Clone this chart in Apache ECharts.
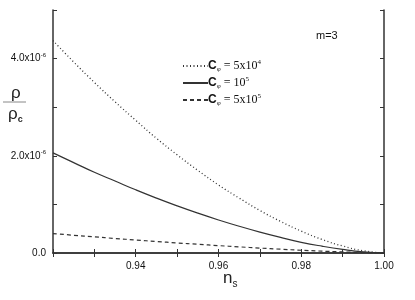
<!DOCTYPE html>
<html>
<head>
<meta charset="utf-8">
<script src="https://cdn.jsdelivr.net/npm/echarts@6/dist/echarts.min.js"></script>
<style>html,body{margin:0;padding:0;background:#fff}#c{width:415px;height:300px}</style>
</head>
<body>
<div id="c"></div>
<script>
// n_s values
var ns = [0.920,0.925,0.930,0.935,0.940,0.945,0.950,0.955,0.960,0.965,0.970,0.975,0.980,0.985,0.990,0.995,1.000];
// rho/rho_c in units of 1e-6
var dotted5e4 = [4.37,3.93,3.51,3.11,2.73,2.36,2.02,1.70,1.40,1.13,0.875,0.65,0.45,0.28,0.144,0.046,0];
var solid1e5  = [2.06,1.86,1.66,1.48,1.30,1.13,0.97,0.82,0.68,0.55,0.43,0.32,0.22,0.14,0.074,0.024,0];
var dashed5e5 = [0.40,0.365,0.332,0.299,0.267,0.237,0.207,0.179,0.152,0.126,0.101,0.078,0.057,0.038,0.022,0.008,0];
var seriesNames = ['{c|C}{sub|φ} = 5x10{sup|4}','{c|C}{sub|φ} = 10{sup|5}','{c|C}{sub|φ} = 5x10{sup|5}'];
var xTickLabels = {94:'0.94',96:'0.96',98:'0.98',100:'1.00'};
var yTickLabels = {0:'0.0',2:'2.0x10{sup|-6}',4:'4.0x10{sup|-6}'};

function pairs(ys){return ns.map(function(x,i){return [x,ys[i]];});}
var ink = '#333';
var chart = echarts.init(document.getElementById('c'), null, {renderer:'canvas'});
var axisLine = {show:true, lineStyle:{color:ink, width:1.5}};
var tick = {show:true, inside:true, length:4, lineStyle:{color:ink, width:1}};
chart.setOption({
  animation:false,
  backgroundColor:'#fff',
  grid:{left:53, right:31, top:10, bottom:47},
  xAxis:[{
    type:'value', min:0.92, max:1.0, interval:0.01, position:'bottom',
    axisLine:axisLine, axisTick:tick, splitLine:{show:false},
    axisLabel:{margin:8, color:'#111', fontFamily:'Liberation Sans', fontSize:10,
      formatter:function(v){var k=Math.round(v*100);return xTickLabels[k]||'';}}
  },{
    type:'value', min:0.92, max:1.0, interval:0.01, position:'top',
    axisLine:axisLine, axisTick:tick, splitLine:{show:false}, axisLabel:{show:false}
  }],
  yAxis:[{
    type:'value', min:0, max:5, interval:1, position:'left',
    axisLine:axisLine, axisTick:tick, splitLine:{show:false},
    axisLabel:{margin:7, color:'#111', fontFamily:'Liberation Sans', fontSize:10,
      formatter:function(v){return yTickLabels[Math.round(v)]||'';},
      rich:{sup:{fontSize:6, verticalAlign:'top', padding:[0,0,7,0], fontFamily:'Liberation Sans', color:'#111'}}}
  },{
    type:'value', min:0, max:5, interval:1, position:'right',
    axisLine:axisLine, axisTick:tick, splitLine:{show:false}, axisLabel:{show:false}
  }],
  legend:{
    orient:'vertical', left:177, top:54, itemWidth:25, itemHeight:10, itemGap:3,
    data:seriesNames,
    itemStyle:{opacity:0},
    textStyle:{fontFamily:'Liberation Serif', fontSize:12, color:'#111', padding:[0,0,0,-5],
      rich:{c:{fontFamily:'Liberation Sans', fontWeight:'bold', fontSize:12, color:'#111'},
            sub:{fontSize:7, verticalAlign:'bottom', padding:[7,0,0,0], fontFamily:'Liberation Serif', color:'#111'},
            sup:{fontSize:7, verticalAlign:'top', padding:[0,0,6,0], fontFamily:'Liberation Serif', color:'#111'}}}
  },
  series:[
    {name:seriesNames[0], type:'line', data:pairs(dotted5e4), showSymbol:false, symbol:'none', smooth:true,
     lineStyle:{color:ink, width:1.3, type:[1,2.5]}, itemStyle:{color:ink}},
    {name:seriesNames[1], type:'line', data:pairs(solid1e5), showSymbol:false, symbol:'none', smooth:true,
     lineStyle:{color:ink, width:1.2, type:'solid'}, itemStyle:{color:ink}},
    {name:seriesNames[2], type:'line', data:pairs(dashed5e5), showSymbol:false, symbol:'none', smooth:true,
     lineStyle:{color:ink, width:1.2, type:[4,3]}, itemStyle:{color:ink}}
  ],
  graphic:[
    {type:'text', left:316, top:30, style:{text:'m=3', font:'11px "Liberation Sans"', fill:'#111'}},
    {type:'text', left:11, top:85, style:{text:'ρ', font:'17px "Liberation Sans"', fill:'#222'}},
    {type:'line', shape:{x1:3, y1:102, x2:26, y2:102}, style:{stroke:'#888', lineWidth:1}},
    {type:'text', left:8, top:106, style:{text:'ρ{s|c}', font:'17px "Liberation Sans"', fill:'#222',
      rich:{s:{font:'bold 9px "Liberation Sans"', fill:'#222', verticalAlign:'bottom', padding:[10,0,0,0]}}}},
    {type:'text', left:223, top:270, style:{text:'n{s|s}', font:'17px "Liberation Sans"', fill:'#222',
      rich:{s:{font:'10px "Liberation Sans"', fill:'#222', verticalAlign:'bottom', padding:[12,0,0,0]}}}}
  ]
});
</script>
</body>
</html>
